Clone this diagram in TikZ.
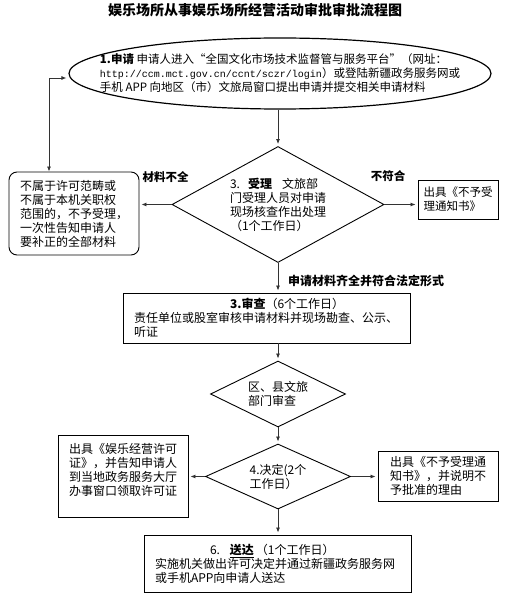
\documentclass[tikz,border=0pt]{standalone}
\usepackage{fontspec}
\setmainfont{Noto Sans CJK SC}
\setmonofont{Liberation Mono}
\usetikzlibrary{shapes.geometric,arrows.meta}

\begin{document}
\begin{tikzpicture}[x=1pt,y=-1pt,shorten >=2pt,
		>={Latex[length=5pt,width=4pt]},
		font=\fontsize{12}{14}\selectfont,
		box_style/.style={rectangle,draw=black,line width=0.9pt,align=left},
		dia_style/.style={diamond,draw=black,line width=0.9pt,inner sep=0pt},
		ell_style/.style={ellipse,draw=black,line width=1.2pt,inner sep=0pt},
		lab_style/.style={font=\fontsize{11.5}{14}\selectfont\bfseries,inner sep=0pt},
		edge_style/.style={draw=black!80,line width=0.8pt,->}]

		\useasboundingbox (0,0) rectangle (508,604);

		\node[font=\fontsize{14}{16}\selectfont\bfseries] (t0) at (255,10) {娱乐场所从事娱乐场所经营活动审批审批流程图};

		\node[ell_style,minimum width=422,minimum height=71,
			label={[align=left,font=\fontsize{11.5}{14}\selectfont]center:{\textbf{1.申请}\ 申请人进入“全国文化市场技术监督管与服务平台”（网址：\\{\ttfamily\fontsize{10}{14}\selectfont http://ccm.mct.gov.cn/ccnt/sczr/login}）或登陆新疆政务服务网或\\手机 APP 向地区（市）文旅局窗口提出申请并提交相关申请材料}}] (n0) at (280,73.5) {};
		\node[dia_style,minimum width=212,minimum height=116,
			label={[align=left]center:{3.\hspace{8pt}\textbf{受理}\hspace{10pt}文旅部\\门受理人员对申请\\现场核查作出处理\\（1个工作日）}}] (n1) at (278,204.5) {};
		\node[box_style,rounded corners=8pt,minimum width=130,minimum height=83] (n2) at (74,213.5) {不属于许可范畴或\\不属于本机关职权\\范围的，不予受理，\\一次性告知申请人\\要补正的全部材料};
		\node[box_style,minimum width=80,minimum height=39,font=\fontsize{11.5}{14}\selectfont] (n3) at (458,199.5) {出具《不予受\\理通知书》};
		\node[box_style,minimum width=287,minimum height=50,text width=265] (n4) at (266.5,318) {\hspace*{96pt}\textbf{3.审查}（6个工作日）\\责任单位或股室审核申请材料并现场勘查、公示、\\听证};
		\node[dia_style,minimum width=135,minimum height=66,
			label={[align=left]center:{区、县文旅\\部门审查}}] (n5) at (278,394) {};
		\node[dia_style,minimum width=145,minimum height=65,
			label={[align=left]center:{4.决定(2个\\工作日）}}] (n6) at (278,476.5) {};
		\node[box_style,minimum width=130,minimum height=82] (n7) at (123,476) {出具《娱乐经营许可\\证》，并告知申请人\\到当地政务服务大厅\\办事窗口领取许可证\\};
		\node[box_style,minimum width=120,minimum height=50] (n8) at (438,476) {出具《不予受理通\\知书》，并说明不\\予批准的理由};
		\node[box_style,minimum width=267,minimum height=57,text width=245] (n9) at (277.5,563.5) {\hspace*{55pt}6.\hspace{10pt}\underline{\textbf{送达}}\hspace{2pt}（1个工作日）\\实施机关做出许可决定并通过新疆政务服务网\\或手机APP向申请人送达};

		\node[lab_style] (l0) at (165.5,177) {材料不全};
		\node[lab_style] (l1) at (388,176) {不符合};
		\node[lab_style,anchor=west,font=\fontsize{12}{14}\selectfont\bfseries] (l2) at (288,281) {申请材料齐全并符合法定形式};

		\coordinate (c0) at (49,78);
		\draw[edge_style,<->] (n2.north -| c0) -- (c0) -- (c0 -| n0.west);
		\draw[edge_style] (n1.north |- n0.south) -- (n1.north);
		\draw[edge_style] (n1.west) -- (n1.west -| n2.east);
		\draw[edge_style] (n1.east) -- (n1.east -| n3.west);
		\draw[edge_style] (n1.south) -- (n1.south |- n4.north);
		\draw[edge_style] (n5.north |- n4.south) -- (n5.north);
		\draw[edge_style] (n5.south) -- (n6.north);
		\draw[edge_style] (n6.west) -- (n6.west -| n7.east);
		\draw[edge_style] (n6.east) -- (n6.east -| n8.west);
		\draw[edge_style] (n6.south) -- (n6.south |- n9.north);
\end{tikzpicture}
\end{document}
